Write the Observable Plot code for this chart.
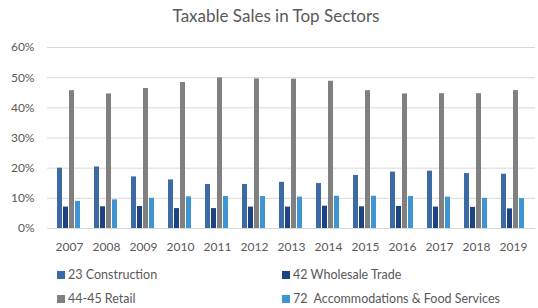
<!DOCTYPE html>
<html>
<head>
<meta charset="utf-8">
<script src="https://cdn.jsdelivr.net/npm/d3@7"></script>
<script src="https://cdn.jsdelivr.net/npm/@observablehq/plot@0.6"></script>
<style>
  body { margin: 0; background: #fff; font-family: Lato, "Open Sans", sans-serif; }
  #chart { position: relative; width: 538px; height: 308px; overflow: hidden; }
  #chart svg { position: absolute; left: 0; top: 0; }
  .title { position: absolute; left: 0; width: 552px; top: 6px; text-align: center;
           font-size: 17px; line-height: 20px; color: #595959; }
  .legend-item { position: absolute; font-size: 12.5px; line-height: 14px; color: #595959;
                 display: flex; align-items: center; white-space: pre; }
  .sw { width: 8px; height: 8px; margin-right: 3px; flex: none; }
</style>
</head>
<body>
<div id="chart"></div>
<script>
const years = ["2007","2008","2009","2010","2011","2012","2013","2014","2015","2016","2017","2018","2019"];
const seriesNames = ["23 Construction", "42 Wholesale Trade", "44-45 Retail", "72  Accommodations & Food Services"];
const construction   = [20.0, 20.4, 17.1, 16.1, 14.6, 14.6, 15.3, 14.9, 17.6, 18.7, 19.0, 18.2, 18.0];
const wholesale      = [ 7.1,  7.2,  7.3,  6.6,  6.6,  7.1,  7.1,  7.4,  7.2,  7.3,  7.1,  7.0,  6.5];
const retail         = [45.7, 44.6, 46.4, 48.4, 49.9, 49.6, 49.5, 48.8, 45.7, 44.6, 44.7, 44.7, 45.7];
const accommodations = [ 9.0,  9.5, 10.0, 10.5, 10.6, 10.6, 10.4, 10.7, 10.7, 10.6, 10.4, 10.0,  9.9];
const yTicks = [0, 0.1, 0.2, 0.3, 0.4, 0.5, 0.6];
const colors = ["#3C6AA5", "#1E4383", "#808080", "#3E95D2"];
const titleText = "Taxable Sales in Top Sectors";

const seriesValues = [construction, wholesale, retail, accommodations];
const table = [];
years.forEach((yr, i) => {
  seriesNames.forEach((s, j) => table.push({ year: yr, series: s, value: seriesValues[j][i] / 100 }));
});

const W = 538, H = 308;
const margins = { marginTop: 47, marginBottom: 80, marginLeft: 47, marginRight: 3 };
const style = { fontFamily: "Lato, 'Open Sans', sans-serif", fontSize: "12px", color: "#595959", background: "transparent" };

const chart = document.getElementById("chart");

// Layer 1: axes and gridlines
const axes = Plot.plot({
  width: W, height: H, ...margins, style,
  x: { type: "point", domain: years, padding: 0.5, tickSize: 0, tickPadding: 14, label: null },
  y: { domain: [0, 0.6], ticks: yTicks, tickFormat: d3.format(".0%"), tickSize: 0, tickPadding: 13, label: null },
  marks: [Plot.ruleY(yTicks, { stroke: "#d9d9d9", strokeWidth: 1 })]
});
chart.appendChild(axes);

// Layer 2: grouped bars
const bars = Plot.plot({
  width: W, height: H, ...margins, style,
  facet: { data: table, x: "year" },
  fx: { domain: years, paddingInner: 0.32, paddingOuter: 0.16, axis: null, label: null },
  x: { domain: seriesNames, paddingInner: 0.22, paddingOuter: 0, axis: null },
  y: { domain: [0, 0.6], axis: null },
  color: { domain: seriesNames, range: colors },
  marks: [Plot.barY(table, { x: "series", y: "value", fill: "series" })]
});
chart.appendChild(bars);

// Title
const t = document.createElement("div");
t.className = "title";
t.textContent = titleText;
chart.appendChild(t);

// Legend (2 columns x 2 rows)
const legendPos = [[57, 268], [282, 268], [57, 292], [282, 292]];
seriesNames.forEach((s, j) => {
  const item = document.createElement("div");
  item.className = "legend-item";
  item.style.left = legendPos[j][0] + "px";
  item.style.top = legendPos[j][1] + "px";
  const sw = document.createElement("span");
  sw.className = "sw";
  sw.style.background = colors[j];
  const lab = document.createElement("span");
  lab.textContent = s;
  item.appendChild(sw);
  item.appendChild(lab);
  chart.appendChild(item);
});
</script>
</body>
</html>
